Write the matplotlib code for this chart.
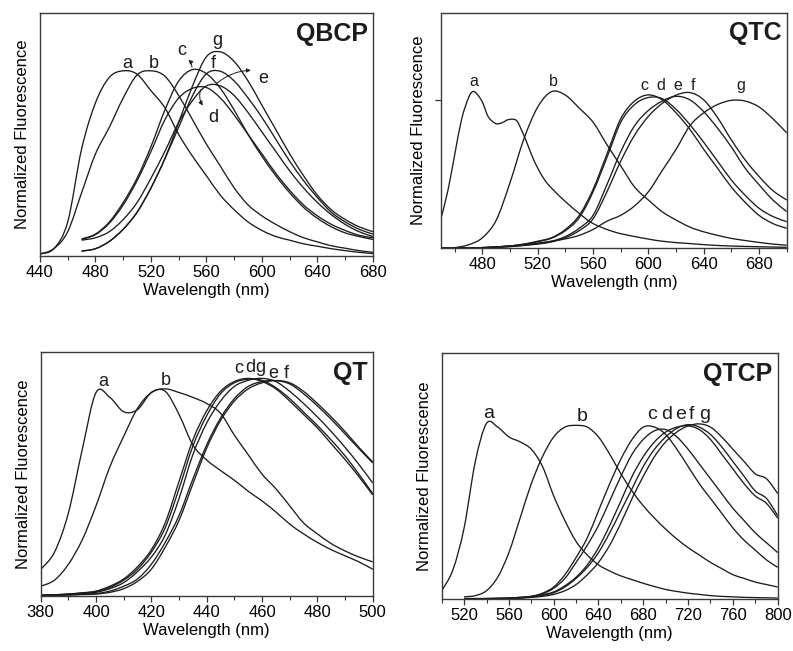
import numpy as np
import matplotlib
matplotlib.use("Agg")
import matplotlib.pyplot as plt
from matplotlib.ticker import MultipleLocator
from matplotlib.path import Path
from matplotlib.patches import PathPatch

plt.rcParams['font.family'] = ['Liberation Sans', 'DejaVu Sans']

nan = np.nan

# ---- QBCP emission spectra (normalized, 440-680 nm, 10 nm steps)
qbcp_nm = list(range(440, 690, 10))
qbcp_a = [0.008, 0.03, 0.14, 0.44, 0.63, 0.735, 0.762, 0.748, 0.68, 0.61, 0.50, 0.41, 0.33,
          0.25, 0.19, 0.14, 0.105, 0.08, 0.065, 0.05, 0.04, 0.03, 0.022, 0.015, 0.01]
qbcp_b = [0.008, 0.03, 0.10, 0.26, 0.42, 0.53, 0.65, 0.745, 0.762, 0.74, 0.66, 0.56, 0.46,
          0.37, 0.28, 0.21, 0.165, 0.13, 0.10, 0.075, 0.058, 0.042, 0.032, 0.022, 0.015]
qbcp_c = [nan, nan, nan, 0.07, 0.09, 0.14, 0.22, 0.32, 0.45, 0.60, 0.72, 0.767, 0.75,
          0.69, 0.60, 0.50, 0.41, 0.33, 0.26, 0.20, 0.155, 0.12, 0.095, 0.08, 0.068]
qbcp_d = [nan, nan, nan, 0.068, 0.088, 0.135, 0.21, 0.31, 0.43, 0.56, 0.65, 0.69, 0.693,
          0.65, 0.58, 0.50, 0.42, 0.34, 0.27, 0.21, 0.165, 0.13, 0.105, 0.085, 0.075]
qbcp_e = [nan, nan, nan, 0.065, 0.075, 0.10, 0.15, 0.22, 0.32, 0.43, 0.55, 0.64, 0.70,
          0.70, 0.66, 0.59, 0.51, 0.43, 0.35, 0.28, 0.22, 0.17, 0.13, 0.10, 0.08]
qbcp_f = [nan, nan, nan, 0.02, 0.03, 0.06, 0.11, 0.18, 0.28, 0.40, 0.53, 0.66, 0.75,
          0.76, 0.72, 0.65, 0.57, 0.48, 0.39, 0.31, 0.24, 0.18, 0.14, 0.11, 0.09]
qbcp_g = [nan, nan, nan, 0.02, 0.03, 0.06, 0.11, 0.18, 0.28, 0.40, 0.55, 0.70, 0.82,
          0.84, 0.80, 0.72, 0.62, 0.52, 0.42, 0.33, 0.25, 0.19, 0.15, 0.12, 0.10]

# ---- QTC emission spectra (450-700 nm)
qtc_a_nm = [450, 455, 460, 465, 470, 473, 476, 480, 484, 488, 491, 495, 498, 502, 505, 508,
            512, 516, 520, 525, 530, 540, 550, 560, 575, 590, 610, 630, 650, 670, 700]
qtc_a = [0.127, 0.245, 0.40, 0.55, 0.64, 0.665, 0.655, 0.62, 0.56, 0.535, 0.528, 0.535,
         0.545, 0.548, 0.54, 0.505, 0.45, 0.39, 0.34, 0.29, 0.255, 0.198, 0.148, 0.105,
         0.07, 0.05, 0.03, 0.02, 0.012, 0.008, 0.004]
qtc_nm = list(range(450, 710, 10))
qtc_b = [0.0, 0.003, 0.015, 0.045, 0.12, 0.28, 0.465, 0.60, 0.665, 0.65, 0.595, 0.535, 0.44,
         0.35, 0.26, 0.205, 0.155, 0.12, 0.09, 0.07, 0.055, 0.042, 0.033, 0.025, 0.018, 0.013]
qtc_c = [0.0, 0.0, 0.001, 0.003, 0.006, 0.01, 0.018, 0.03, 0.045, 0.08, 0.14, 0.25, 0.40,
         0.55, 0.625, 0.651, 0.63, 0.575, 0.505, 0.42, 0.34, 0.26, 0.195, 0.14, 0.105, 0.085]
qtc_d = [0.0, 0.0, 0.001, 0.003, 0.006, 0.01, 0.017, 0.028, 0.043, 0.075, 0.13, 0.24, 0.385,
         0.535, 0.61, 0.64, 0.635, 0.59, 0.525, 0.45, 0.37, 0.29, 0.225, 0.17, 0.135, 0.113]
qtc_e = [0.0, 0.0, 0.001, 0.002, 0.004, 0.008, 0.013, 0.02, 0.03, 0.05, 0.085, 0.14, 0.27,
         0.41, 0.52, 0.585, 0.625, 0.645, 0.63, 0.58, 0.51, 0.43, 0.34, 0.27, 0.205, 0.156]
qtc_f = [0.0, 0.0, 0.001, 0.002, 0.004, 0.007, 0.012, 0.018, 0.027, 0.045, 0.075, 0.125, 0.24,
         0.37, 0.48, 0.56, 0.615, 0.65, 0.661, 0.63, 0.555, 0.46, 0.375, 0.305, 0.245, 0.205]
qtc_g = [0.0, 0.0, 0.001, 0.003, 0.006, 0.01, 0.015, 0.022, 0.03, 0.04, 0.055, 0.08, 0.115,
         0.14, 0.18, 0.24, 0.33, 0.42, 0.52, 0.575, 0.61, 0.628, 0.625, 0.60, 0.55, 0.49]

# ---- QT emission spectra (380-500 nm, 5 nm steps)
qt_nm = list(range(380, 505, 5))
qt_a = [0.109, 0.18, 0.34, 0.60, 0.835, 0.815, 0.756, 0.765, 0.835, 0.84, 0.745, 0.62, 0.558,
        0.515, 0.475, 0.43, 0.39, 0.345, 0.295, 0.255, 0.22, 0.19, 0.165, 0.14, 0.11]
qt_b = [0.04, 0.065, 0.13, 0.23, 0.37, 0.53, 0.655, 0.77, 0.835, 0.85, 0.835, 0.815, 0.79,
        0.75, 0.66, 0.58, 0.50, 0.44, 0.37, 0.30, 0.255, 0.215, 0.185, 0.16, 0.14]
qt_c = [0.003, 0.005, 0.008, 0.013, 0.02, 0.04, 0.07, 0.12, 0.19, 0.30, 0.47, 0.64, 0.76,
        0.84, 0.88, 0.893, 0.88, 0.85, 0.80, 0.745, 0.69, 0.625, 0.56, 0.49, 0.415]
qt_d = [0.003, 0.005, 0.008, 0.012, 0.018, 0.035, 0.065, 0.11, 0.18, 0.28, 0.44, 0.615, 0.74,
        0.83, 0.875, 0.89, 0.885, 0.855, 0.81, 0.755, 0.70, 0.64, 0.575, 0.50, 0.42]
qt_e = [0.002, 0.003, 0.005, 0.007, 0.01, 0.02, 0.04, 0.07, 0.13, 0.22, 0.33, 0.48, 0.62,
        0.73, 0.81, 0.86, 0.88, 0.884, 0.87, 0.83, 0.78, 0.725, 0.665, 0.605, 0.546]
qt_f = [0.002, 0.003, 0.004, 0.006, 0.008, 0.015, 0.03, 0.06, 0.11, 0.20, 0.31, 0.46, 0.607,
        0.72, 0.80, 0.85, 0.875, 0.884, 0.875, 0.84, 0.79, 0.735, 0.675, 0.61, 0.55]
qt_g = [0.002, 0.004, 0.006, 0.01, 0.015, 0.03, 0.055, 0.10, 0.16, 0.25, 0.40, 0.58, 0.71,
        0.80, 0.86, 0.885, 0.893, 0.88, 0.84, 0.79, 0.735, 0.675, 0.61, 0.54, 0.464]

# ---- QTCP emission spectra (500-800 nm, 10 nm steps)
qtcp_nm = list(range(500, 810, 10))
qtcp_a = [0.035, 0.12, 0.29, 0.56, 0.715, 0.70, 0.66, 0.64, 0.61, 0.54, 0.42, 0.32, 0.235,
          0.18, 0.14, 0.115, 0.095, 0.08, 0.065, 0.052, 0.04, 0.032, 0.025, 0.02, 0.015,
          0.012, 0.01, 0.008, 0.007, 0.006, 0.005]
qtcp_b = [nan, nan, 0.01, 0.015, 0.035, 0.09, 0.19, 0.33, 0.47, 0.58, 0.66, 0.70, 0.707,
          0.70, 0.66, 0.59, 0.51, 0.44, 0.38, 0.33, 0.285, 0.245, 0.21, 0.18, 0.15, 0.125,
          0.10, 0.085, 0.07, 0.06, 0.05]
qtcp_c = [nan, nan, 0.003, 0.003, 0.003, 0.004, 0.005, 0.008, 0.012, 0.025, 0.05, 0.10, 0.17,
          0.25, 0.36, 0.47, 0.57, 0.65, 0.70, 0.70, 0.67, 0.61, 0.54, 0.47, 0.41, 0.35,
          0.29, 0.24, 0.20, 0.16, 0.13]
qtcp_d = [nan, nan, 0.003, 0.003, 0.003, 0.004, 0.005, 0.008, 0.012, 0.022, 0.045, 0.085,
          0.15, 0.22, 0.30, 0.40, 0.50, 0.59, 0.65, 0.685, 0.69, 0.66, 0.61, 0.55, 0.49,
          0.43, 0.37, 0.32, 0.27, 0.23, 0.19]
qtcp_e = [nan, nan, 0.002, 0.002, 0.003, 0.003, 0.004, 0.006, 0.01, 0.018, 0.03, 0.055, 0.09,
          0.14, 0.21, 0.30, 0.40, 0.50, 0.58, 0.64, 0.68, 0.70, 0.705, 0.69, 0.65, 0.59,
          0.53, 0.47, 0.42, 0.39, 0.33]
qtcp_f = [nan, nan, 0.002, 0.002, 0.003, 0.003, 0.004, 0.006, 0.01, 0.016, 0.027, 0.05,
          0.085, 0.13, 0.19, 0.27, 0.36, 0.45, 0.54, 0.61, 0.66, 0.695, 0.71, 0.70, 0.67,
          0.62, 0.56, 0.50, 0.44, 0.41, 0.34]
qtcp_g = [nan, nan, 0.002, 0.002, 0.002, 0.003, 0.003, 0.005, 0.008, 0.012, 0.02, 0.035,
          0.06, 0.10, 0.15, 0.22, 0.31, 0.41, 0.50, 0.58, 0.64, 0.68, 0.705, 0.713, 0.70,
          0.66, 0.61, 0.56, 0.51, 0.49, 0.43]

INK = '#1c1c1c'


def spectrum(ax, xs, ys, lw=0.95):
    # smooth Catmull-Rom style Bezier through the measured points
    pts = np.array([(x, y) for x, y in zip(xs, ys) if not np.isnan(y)], dtype=float)
    verts = [pts[0]]
    codes = [Path.MOVETO]
    n = len(pts)
    for i in range(n - 1):
        p0 = pts[i - 1] if i > 0 else pts[i]
        p1, p2 = pts[i], pts[i + 1]
        p3 = pts[i + 2] if i + 2 < n else pts[i + 1]
        verts += [p1 + (p2 - p0) / 6.0, p2 - (p3 - p1) / 6.0, p2]
        codes += [Path.CURVE4] * 3
    ax.add_patch(PathPatch(Path(verts, codes), fill=False, edgecolor=INK, lw=lw))


def setup(rect, xlim, major, minor, title, ylabelpad=9):
    ax = fig.add_axes(rect)
    ax.set_xlim(*xlim)
    ax.set_ylim(0, 1)
    ax.xaxis.set_major_locator(MultipleLocator(major))
    ax.xaxis.set_minor_locator(MultipleLocator(minor))
    ax.set_yticks([])
    ax.tick_params(axis='x', which='major', direction='out', length=4, width=0.9,
                   labelsize=12, pad=2.5, color='#333333')
    ax.tick_params(axis='x', which='minor', direction='out', length=3, width=0.8,
                   color='#333333')
    for s in ax.spines.values():
        s.set_linewidth(1.0)
        s.set_color('#3a3a3a')
    ax.set_xlabel('Wavelength (nm)', fontsize=12, labelpad=2)
    ax.set_ylabel('Normalized Fluorescence', fontsize=12, labelpad=ylabelpad)
    ax.text(0.985, 0.915, title, transform=ax.transAxes, ha='right', va='center',
            fontsize=18, fontweight='bold', color=INK)
    return ax


fig = plt.figure(figsize=(7.93, 6.51), dpi=100)

# QBCP
ax1 = setup([0.0504, 0.6068, 0.4199, 0.3733], (440, 680), 40, 20, 'QBCP', ylabelpad=7)
for ys in [qbcp_a, qbcp_b, qbcp_c, qbcp_d, qbcp_e, qbcp_f, qbcp_g]:
    spectrum(ax1, qbcp_nm, ys)
for t, x, y in [('a', 503, 0.79), ('b', 522, 0.79), ('c', 542, 0.845),
                ('g', 567.5, 0.885), ('f', 565, 0.79), ('e', 601, 0.73), ('d', 565, 0.57)]:
    ax1.text(x, y, t, fontsize=13, ha='center', va='center', color=INK)
arrow = dict(arrowstyle='-|>', lw=0.7, color=INK, mutation_scale=6)
ax1.annotate('', xy=(545.5, 0.815), xytext=(549.5, 0.765),
             arrowprops=dict(arrow, connectionstyle='arc3,rad=0.3'))
ax1.annotate('', xy=(558.5, 0.61), xytext=(556.5, 0.695),
             arrowprops=dict(arrow, connectionstyle='arc3,rad=0.3'))
ax1.annotate('', xy=(594, 0.764), xytext=(566, 0.703),
             arrowprops=dict(arrow, connectionstyle='arc3,rad=-0.2'))

# QTC
ax2 = setup([0.5561, 0.6186, 0.4359, 0.3619], (450, 700), 40, 20, 'QTC', ylabelpad=3)
ax2.set_xticks(range(480, 700, 40))
ax2.set_yticks([0.629])
ax2.set_yticklabels([])
ax2.tick_params(axis='y', direction='out', length=4, width=0.9, color='#333333')
spectrum(ax2, qtc_a_nm, qtc_a)
for ys in [qtc_b, qtc_c, qtc_d, qtc_e, qtc_f, qtc_g]:
    spectrum(ax2, qtc_nm, ys)
for t, x, y in [('a', 474, 0.707), ('b', 531.5, 0.707), ('c', 597, 0.693), ('d', 609, 0.693),
                ('e', 621, 0.693), ('f', 632, 0.693), ('g', 667, 0.693)]:
    ax2.text(x, y, t, fontsize=11.5, ha='center', va='center', color=INK)

# QT
ax3 = setup([0.0513, 0.0845, 0.4187, 0.3743], (380, 500), 20, 10, 'QT', ylabelpad=7)
for ys in [qt_a, qt_b, qt_c, qt_d, qt_e, qt_f, qt_g]:
    spectrum(ax3, qt_nm, ys)
for t, x, y in [('a', 402.7, 0.88), ('b', 425.3, 0.886), ('c', 451.6, 0.932),
                ('d', 455.8, 0.936), ('g', 459.4, 0.936), ('e', 464.2, 0.915),
                ('f', 468.9, 0.915)]:
    ax3.text(x, y, t, fontsize=13, ha='center', va='center', color=INK)

# QTCP
ax4 = setup([0.557, 0.0794, 0.4237, 0.3779], (500, 800), 40, 20, 'QTCP', ylabelpad=7)
ax4.set_xticks(range(520, 810, 40))
for ys in [qtcp_a, qtcp_b, qtcp_c, qtcp_d, qtcp_e, qtcp_f, qtcp_g]:
    spectrum(ax4, qtcp_nm, ys)
for t, x, y in [('a', 541.7, 0.756), ('b', 625, 0.743), ('c', 687.5, 0.751),
                ('d', 701, 0.751), ('e', 713, 0.751), ('f', 723.4, 0.751), ('g', 734.4, 0.751)]:
    ax4.text(x, y, t, fontsize=14, ha='center', va='center', color=INK)

fig.savefig('out.png', dpi=100)
